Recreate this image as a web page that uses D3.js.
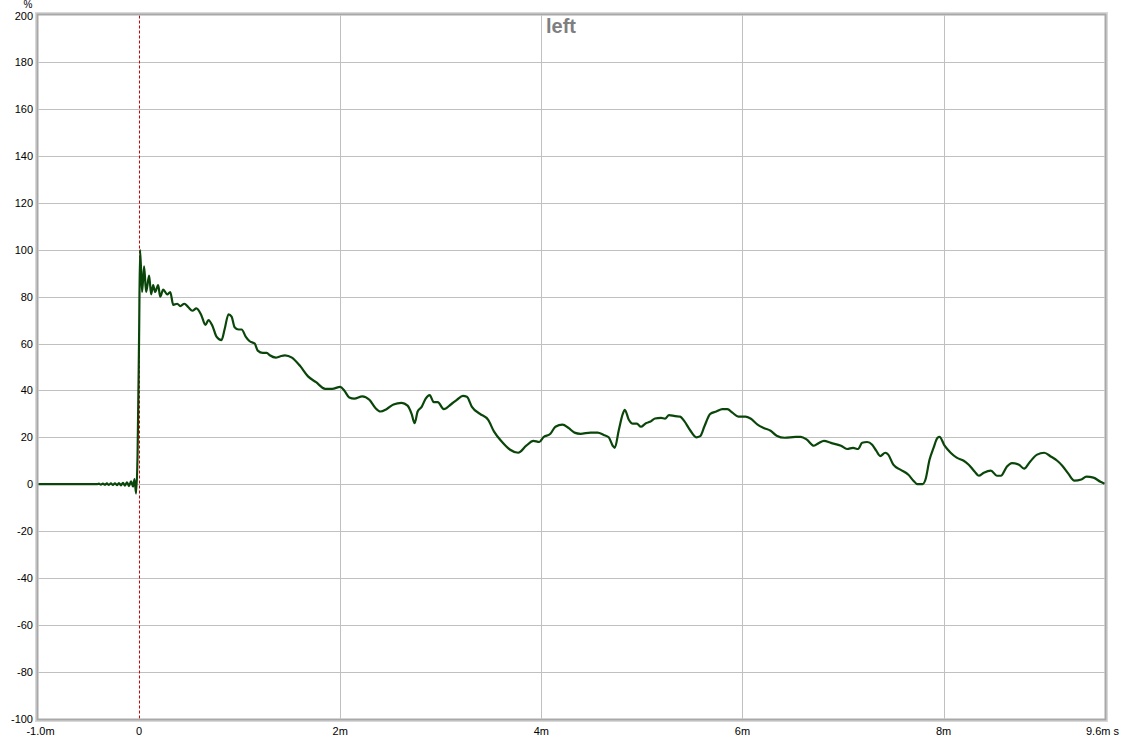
<!DOCTYPE html>
<html><head><meta charset="utf-8">
<script src="https://cdn.jsdelivr.net/npm/d3@7"></script>
<style>
html,body{margin:0;padding:0;background:#fff;}
text{font-family:"Liberation Sans",Arial,sans-serif;}
</style></head>
<body><svg id="c" width="1123" height="740"></svg>
<script>
// time in ms
const timeMs = [-1.0,-0.5,-0.42,-0.40,-0.38,-0.36,-0.34,-0.32,-0.30,-0.28,-0.26,-0.24,-0.22,-0.20,-0.18,-0.16,-0.14,-0.12,-0.10,-0.08,-0.06,-0.045,-0.03,-0.015,0.0,0.01,
0.03,0.05,0.07,0.10,0.12,0.14,0.16,0.19,0.21,0.24,0.28,0.31,0.34,0.38,0.41,0.45,0.49,0.53,0.57,0.62,0.66,0.69,0.73,0.77,0.82,0.85,0.89,0.92,0.95,0.99,
1.02,1.06,1.10,1.15,1.18,1.23,1.27,1.30,1.36,1.40,1.45,1.52,1.60,1.68,1.76,1.85,1.92,2.00,2.04,2.09,2.14,2.22,2.29,2.35,2.40,2.46,2.53,2.61,2.67,2.71,2.74,2.77,2.81,2.85,2.89,2.93,2.97,
3.03,3.10,3.16,3.22,3.26,3.31,3.39,3.47,3.53,3.61,3.69,3.77,3.85,3.92,3.98,4.02,4.09,4.14,4.21,4.27,4.33,4.39,4.49,4.56,4.62,4.67,4.71,4.73,4.77,4.81,4.83,4.87,4.91,4.95,4.99,
5.04,5.08,5.13,5.19,5.23,5.27,5.33,5.38,5.42,5.48,5.54,5.58,5.62,5.68,5.74,5.80,5.85,5.90,5.96,6.03,6.08,6.15,6.21,6.28,6.34,6.42,6.53,6.58,6.64,6.71,6.76,6.81,6.88,6.98,
7.04,7.10,7.15,7.19,7.24,7.29,7.33,7.37,7.42,7.45,7.50,7.57,7.65,7.70,7.74,7.79,7.82,7.86,7.90,7.94,7.96,8.01,8.07,8.13,8.20,8.25,8.31,8.35,8.40,8.47,8.53,8.57,8.63,8.68,8.75,8.80,8.86,8.93,
9.00,9.07,9.13,9.18,9.24,9.30,9.37,9.42,9.49,9.56,9.60];
// amplitude in %
const percent = [0,0,0,0.2,-0.2,0.25,-0.25,0.3,-0.3,0.35,-0.35,0.4,-0.4,0.5,-0.5,0.6,-0.6,0.8,-0.8,1.2,-1.0,2.2,-4,12,62,100,
82,93,82,89,81,85,82,85,80,83,81,82,76.5,77,76,77,75.5,74,75,72,68,70,67.5,63,61.5,66,72.5,71.5,67,66,
66,63,61,60,57,56,56,55,54,54.5,55,54,50.5,46,43.5,40.7,40.7,41.5,40,37,36.5,37.5,36,32.5,31,32,34,34.7,33.5,30,26,31,33,36.5,38,35,35,
32,34,36,37.7,37.3,33,30,27.5,22.4,18,14.7,13.4,16.4,18.5,18,20,21.5,24.5,25.4,24,22,21.5,22,22,21,20,16.4,15.5,23,30,31.7,27.5,25.8,25.8,24.5,
26,26.6,28,28.3,28,29.5,29,28.8,27,23,20,20.5,24.5,30,31,32,32,30.5,28.8,28.8,28,25.4,24,22.8,20.7,19.8,20.2,20.2,19,16.4,17.6,18.5,17.6,16.4,
15,15.5,15,17.7,18,16.8,14.3,12,13.4,12.6,8.3,6.2,4,1.5,0,0,2,10.4,15.5,19.8,20.2,16.4,13.4,11.3,10,8.3,5.3,3.6,4.9,5.8,3.6,3.6,7.5,9,8.3,6.6,9.6,12.6,
13.4,11.7,10,7.9,4.5,1.5,2,3.2,2.8,1,0.2];

const yTicks = [-100,-80,-60,-40,-20,0,20,40,60,80,100,120,140,160,180,200];
const xTicks = [-1,0,2,4,6,8,9.6];
const xTickLabels = ["-1.0m","0","2m","4m","6m","8m","9.6m s"];
const title = "left";

const svg = d3.select("#c");
const L = 38.5, R = 1104.5, T = 15.5, B = 718.5;
const x = d3.scaleLinear().domain([-1, 9.6]).range([L, R]);
const y = d3.scaleLinear().domain([-100, 200]).range([B, T]);

// frame shadow
svg.append("rect").attr("x", L-2.5).attr("y", T-2.5).attr("width", R-L+5).attr("height", B-T+5)
  .attr("fill", "none").attr("stroke", "#d8d8d8").attr("stroke-width", 2);
svg.append("rect").attr("x", L).attr("y", T).attr("width", R-L).attr("height", B-T).attr("fill", "#fff");

// grid
const gridY = yTicks.filter(v => v > -100 && v < 200);
svg.append("g").selectAll("line").data(gridY).join("line")
  .attr("x1", L).attr("x2", R).attr("y1", d => Math.round(y(d)) + 0.5).attr("y2", d => Math.round(y(d)) + 0.5)
  .attr("stroke", "#c0c0c0").attr("stroke-width", 1);
svg.append("g").selectAll("line").data([2,4,6,8]).join("line")
  .attr("x1", d => Math.round(x(d)) + 0.5).attr("x2", d => Math.round(x(d)) + 0.5).attr("y1", T).attr("y2", B)
  .attr("stroke", "#c0c0c0").attr("stroke-width", 1);

// zero dashed line
svg.append("line").attr("x1", Math.round(x(0)) + 0.5).attr("x2", Math.round(x(0)) + 0.5).attr("y1", T).attr("y2", B)
  .attr("stroke", "#cc0000").attr("stroke-width", 1).attr("stroke-dasharray", "3,2");

// frame border
svg.append("rect").attr("x", L-1).attr("y", T-1).attr("width", R-L+2).attr("height", B-T+2)
  .attr("fill", "none").attr("stroke", "#a8a8a8").attr("stroke-width", 2);

// data line
const pts = timeMs.map((t, i) => [t, percent[i]]);
svg.append("path").datum(pts)
  .attr("fill", "none").attr("stroke", "#0a460a").attr("stroke-width", 2.2).attr("stroke-linejoin", "round")
  .attr("d", d3.line().x(d => x(d[0])).y(d => y(d[1])).curve(d3.curveMonotoneX));

// y labels
svg.append("g").selectAll("text").data(yTicks).join("text")
  .attr("x", 33).attr("y", d => y(d) + 4).attr("text-anchor", "end")
  .attr("font-size", 11).attr("fill", "#000").text(d => d);
svg.append("text").attr("x", 28).attr("y", 8).attr("text-anchor", "middle")
  .attr("font-size", 10).text("%");

// x labels
svg.append("g").selectAll("text").data(xTicks).join("text")
  .attr("x", d => d === 9.6 ? 1119 : x(d) + (d === -1 ? 2 : 0)).attr("y", 735)
  .attr("text-anchor", d => d === 9.6 ? "end" : "middle")
  .attr("font-size", 11).text((d, i) => xTickLabels[i]);

// title
svg.append("text").attr("x", 561).attr("y", 33).attr("text-anchor", "middle")
  .attr("font-size", 20).attr("font-weight", "bold").attr("fill", "#7f7f7f").text(title);
</script></body></html>
